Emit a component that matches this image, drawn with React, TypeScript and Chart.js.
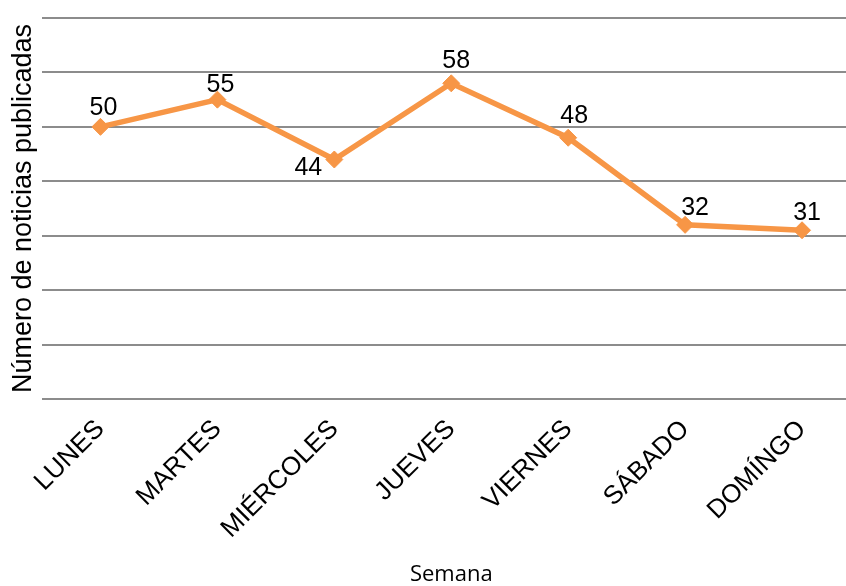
import React, { useEffect, useRef } from "react";
import { Chart, registerables } from "chart.js";

Chart.register(...registerables);

const categories = ["LUNES", "MARTES", "MIÉRCOLES", "JUEVES", "VIERNES", "SÁBADO", "DOMÍNGO"];
const noticias = [50, 55, 44, 58, 48, 32, 31];
const yMin = 0;
const yMax = 70;
const yStep = 10;
const xTitle = "Semana";
const yTitle = "Número de noticias publicadas";

// style: offset of each value label from its point (px)
const labelOffsets: [number, number][] = [
  [3, -21],
  [3, -17],
  [-26, 6],
  [5, -24],
  [6, -24],
  [10, -19],
  [5, -19],
];

const ORANGE = "#F79646";
const SANS = '"Liberation Sans", Arial, sans-serif';

const valueLabels = {
  id: "valueLabels",
  afterDatasetsDraw(chart: any) {
    const ctx = chart.ctx;
    const meta = chart.getDatasetMeta(0);
    ctx.save();
    ctx.font = `25px ${SANS}`;
    ctx.fillStyle = "#000";
    ctx.textAlign = "center";
    ctx.textBaseline = "alphabetic";
    meta.data.forEach((pt: any, i: number) => {
      const [dx, dy] = labelOffsets[i];
      ctx.fillText(String(noticias[i]), pt.x + dx, pt.y + dy + 9);
    });
    ctx.restore();
  },
};

export default function App() {
  const ref = useRef<HTMLCanvasElement>(null);

  useEffect(() => {
    if (!ref.current) return;
    const chart = new Chart(ref.current, {
      type: "line",
      data: {
        labels: categories,
        datasets: [
          {
            data: noticias,
            borderColor: ORANGE,
            backgroundColor: ORANGE,
            borderWidth: 5.5,
            pointStyle: "rectRot",
            pointRadius: 8.5,
            pointBorderWidth: 1,
            pointBackgroundColor: ORANGE,
            pointBorderColor: ORANGE,
            tension: 0,
            fill: false,
          },
        ],
      },
      options: {
        animation: false,
        responsive: false,
        layout: { padding: { top: 18, right: 0, left: 0, bottom: 0 } },
        plugins: {
          legend: { display: false },
          tooltip: { enabled: false },
        },
        scales: {
          x: {
            offset: true,
            grid: { display: false, drawTicks: false, offset: true },
            border: { display: false },
            ticks: {
              autoSkip: false,
              minRotation: 45,
              maxRotation: 45,
              padding: 15,
              color: "#000",
              font: { family: SANS, size: 26 },
            },
            title: {
              display: true,
              text: xTitle,
              color: "#000",
              font: { family: '"Open Sans", sans-serif', size: 22 },
              padding: { top: 0, bottom: -2 },
            },
            afterFit: (s: any) => {
              s.height = 187;
            },
          },
          y: {
            min: yMin,
            max: yMax,
            ticks: { display: false, stepSize: yStep },
            grid: { color: "#8c8c8c", lineWidth: 2, drawTicks: false },
            border: { display: false },
            title: {
              display: true,
              text: yTitle,
              color: "#000",
              font: { family: SANS, size: 27 },
              padding: { top: 7, bottom: 0 },
            },
            afterFit: (s: any) => {
              s.width = 42;
            },
          },
        },
      },
      plugins: [valueLabels],
    });
    return () => chart.destroy();
  }, []);

  return (
    <div
      style={{
        position: "absolute",
        left: 0,
        top: 0,
        width: 846,
        height: 586,
        overflow: "hidden",
        background: "#fff",
      }}
    >
      <canvas ref={ref} width={870} height={586} />
    </div>
  );
}
